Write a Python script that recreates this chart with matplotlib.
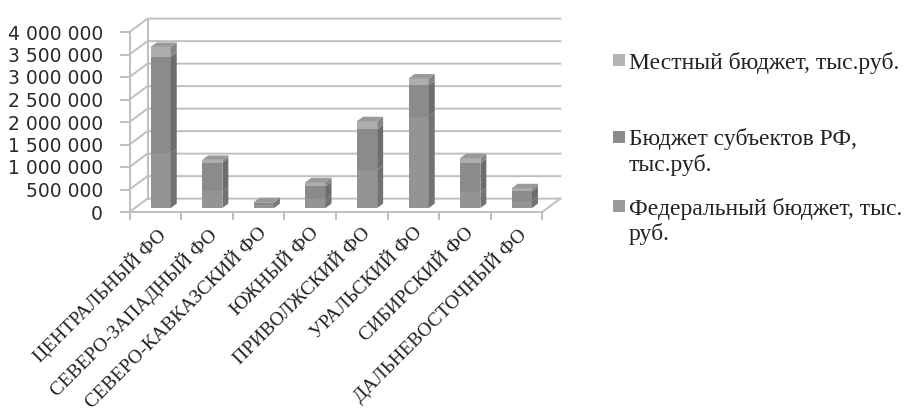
import matplotlib.pyplot as plt
from matplotlib.patches import Polygon, Rectangle

# data (тыс. руб.)
districts = ['ЦЕНТРАЛЬНЫЙ ФО', 'СЕВЕРО-ЗАПАДНЫЙ ФО', 'СЕВЕРО-КАВКАЗСКИЙ ФО',
             'ЮЖНЫЙ ФО', 'ПРИВОЛЖСКИЙ ФО', 'УРАЛЬСКИЙ ФО', 'СИБИРСКИЙ ФО',
             'ДАЛЬНЕВОСТОЧНЫЙ ФО']
federal = [1220000, 370000, 60000, 190000, 850000, 2030000, 350000, 150000]
subjects = [2140000, 640000, 55000, 290000, 900000, 700000, 650000, 220000]
local = [220000, 60000, 15000, 95000, 180000, 150000, 110000, 70000]
legend_names = ['Местный бюджет, тыс.руб.',
                'Бюджет субъектов РФ,\nтыс.руб.',
                'Федеральный бюджет, тыс.\nруб.']
y_ticks = [0, 500000, 1000000, 1500000, 2000000, 2500000, 3000000, 3500000, 4000000]
y_labels = ['0', '500 000', '1 000 000', '1 500 000', '2 000 000',
            '2 500 000', '3 000 000', '3 500 000', '4 000 000']

W, H = 916, 409
px_cat = 51.6          # pixels per category
px_val = 45.0 / 1e6    # pixels per unit of value
depth_x = 0.35         # oblique depth, category units
depth_y = 297000       # oblique depth, value units
n = len(districts)

fig = plt.figure(figsize=(W / 100, H / 100), dpi=100)
ax_w = (n + depth_x) * px_cat
ax_h = (y_ticks[-1] + depth_y) * px_val
ax = fig.add_axes([129.5 / W, (H - 212) / H, ax_w / W, ax_h / H])
ax.set_xlim(0, n + depth_x)
ax.set_ylim(0, y_ticks[-1] + depth_y)
for s in ax.spines.values():
    s.set_visible(False)

grid_c = '#bfbfbf'
lw = 1.4
# walls and gridlines
for v in y_ticks:
    ax.plot([0, depth_x, n + depth_x], [v, v + depth_y, v + depth_y],
            color=grid_c, lw=lw, clip_on=False, zorder=1)
ax.plot([0, 0], [0, y_ticks[-1]], color=grid_c, lw=lw, clip_on=False, zorder=1)
ax.plot([depth_x, depth_x], [depth_y, y_ticks[-1] + depth_y],
        color=grid_c, lw=lw, clip_on=False, zorder=1)
ax.plot([0, n, n + depth_x], [0, 0, depth_y], color=grid_c, lw=lw,
        clip_on=False, zorder=1)

# bars (oblique 3d look)
bw = 0.39
f0, f1 = 0.3, 0.63
ddx = (f1 - f0) * depth_x
ddy = (f1 - f0) * depth_y
front_c = ['#949494', '#8b8b8b', '#adadad']
side_c = ['#727272', '#6d6d6d', '#858585']
top_c = '#9a9a9a'
for i in range(n):
    x0 = i + 0.5 - bw / 2 + f0 * depth_x
    base = f0 * depth_y
    for k, vals in enumerate([federal, subjects, local]):
        h = vals[i]
        ax.bar(x0, h, bottom=base, width=bw, align='edge', color=front_c[k],
               lw=0, zorder=3)
        ax.add_patch(Polygon([(x0 + bw, base), (x0 + bw + ddx, base + ddy),
                              (x0 + bw + ddx, base + h + ddy), (x0 + bw, base + h)],
                             closed=True, color=side_c[k], lw=0, zorder=3))
        base += h
    ax.add_patch(Polygon([(x0, base), (x0 + bw, base), (x0 + bw + ddx, base + ddy),
                          (x0 + ddx, base + ddy)],
                         closed=True, color=top_c, lw=0, zorder=3))

# axes ticks
ax.set_yticks(y_ticks, y_labels)
ax.tick_params(axis='y', length=7, width=lw, color=grid_c, pad=12,
               labelsize=13.5, labelcolor='#2a2a2a')
ax.set_xticks(range(n + 1), [''] * (n + 1))
ax.set_xticks([i + 0.5 for i in range(n)], districts, minor=True)
ax.tick_params(axis='x', which='major', length=6, width=lw, color=grid_c)
ax.tick_params(axis='x', which='minor', length=0, pad=9)
for lab in ax.get_xticklabels(minor=True):
    lab.set_rotation(45)
    lab.set_ha('right')
    lab.set_rotation_mode('anchor')
    lab.set_family('Liberation Serif')
    lab.set_fontsize(14)
    lab.set_color('#222222')

# legend
leg_colors = ['#b3b3b3', '#8c8c8c', '#9a9a9a']
leg_y = [60, 137, 206]
line_gap = 26
for name, c, y in zip(legend_names, leg_colors, leg_y):
    fig.add_artist(Rectangle((612.5 / W, 1 - (y + 6) / H), 12 / W, 12 / H,
                             transform=fig.transFigure, color=c, lw=0))
    for j, line in enumerate(name.split('\n')):
        fig.text(629 / W, 1 - (y + j * line_gap) / H, line,
                 family='Liberation Serif', fontsize=17, color='#222222',
                 va='center_baseline')

fig.savefig('out.png', dpi=100)
